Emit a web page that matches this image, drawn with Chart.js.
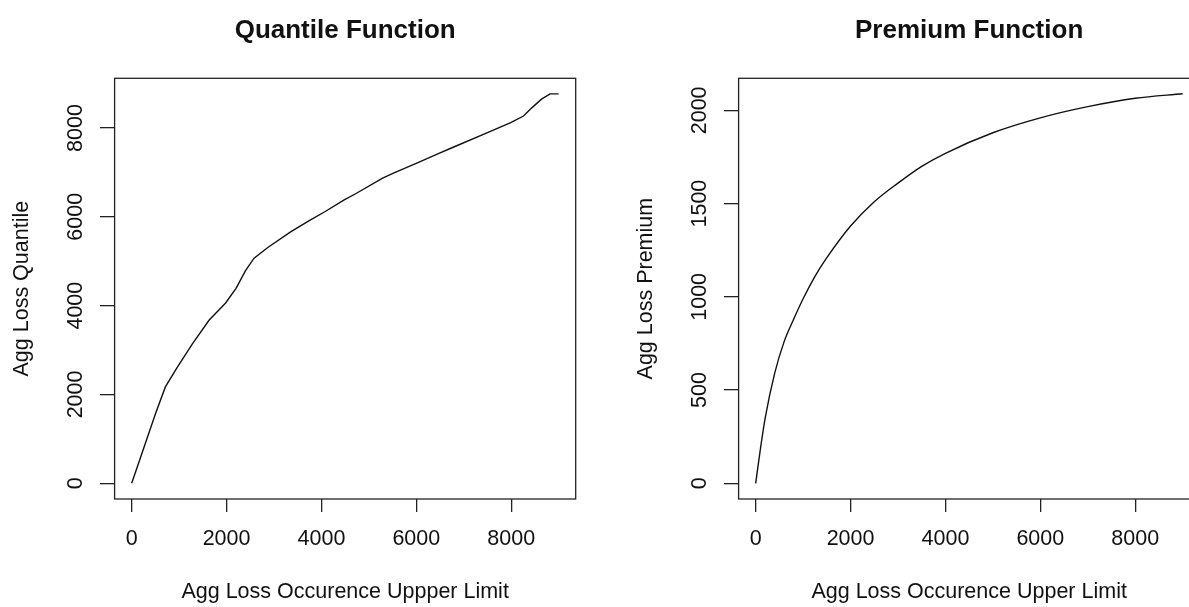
<!DOCTYPE html>
<html>
<head>
<meta charset="utf-8">
<script src="https://cdn.jsdelivr.net/npm/chart.js@4.4.1/dist/chart.umd.min.js"></script>
<style>
  html, body { margin: 0; padding: 0; background: #fff; overflow: hidden; width: 1189px; height: 607px; }
  #wrap { position: relative; width: 1189px; height: 607px; overflow: hidden; }
  canvas { position: absolute; top: 0; }
  #c1 { left: 0px; }
  #c2 { left: 624px; }
</style>
</head>
<body>
<div id="wrap">
  <canvas id="c1" width="600" height="607"></canvas>
  <canvas id="c2" width="600" height="607"></canvas>
</div>
<script>
// ---- data ----
const quantileX = [0, 190, 500, 710, 960, 1280, 1630, 1980, 2200, 2400, 2580, 2870, 3350, 3770, 4080, 4480, 4720, 5290, 5530, 6010, 6500, 6740, 7550, 7990, 8260, 8440, 8640, 8820, 9000];
const quantileY = [0, 590, 1560, 2170, 2610, 3140, 3670, 4060, 4390, 4790, 5070, 5310, 5660, 5930, 6120, 6380, 6520, 6870, 6990, 7210, 7440, 7550, 7920, 8120, 8270, 8460, 8650, 8770, 8770];

const premiumX = [0, 100, 200, 400, 600, 800, 1000, 1250, 1500, 2000, 2500, 3000, 3500, 4000, 5000, 6000, 7000, 8000, 9000];
const premiumY = [0, 185, 350, 590, 760, 880, 990, 1110, 1210, 1380, 1510, 1610, 1700, 1770, 1880, 1960, 2020, 2065, 2089];

const xTicks = [0, 2000, 4000, 6000, 8000];
const quantileTicks = [0, 2000, 4000, 6000, 8000];
const premiumTicks = [0, 500, 1000, 1500, 2000];

const titles = ['Quantile Function', 'Premium Function'];
const xLabels = ['Agg Loss Occurence Uppper Limit', 'Agg Loss Occurence Upper Limit'];
const yLabels = ['Agg Loss Quantile', 'Agg Loss Premium'];

// ---- styling ----
const FONT = "'Liberation Sans', Arial, Helvetica, sans-serif";
const INK = '#111';

const boxPlugin = {
  id: 'rbox',
  afterDraw(chart) {
    const a = chart.chartArea;
    const ctx = chart.ctx;
    ctx.save();
    ctx.strokeStyle = '#222';
    ctx.lineWidth = 1.3;
    ctx.strokeRect(a.left, a.top, a.right - a.left, a.bottom - a.top);
    ctx.restore();
  }
};

function makeChart(id, xs, ys, yTicks, yMin, yMax, title, xLabel, yLabel, smooth) {
  const pts = xs.map((x, i) => ({ x: x, y: ys[i] }));
  return new Chart(document.getElementById(id), {
    type: 'scatter',
    data: {
      datasets: [{
        data: pts,
        showLine: true,
        borderColor: '#111',
        borderWidth: 1.4,
        pointRadius: 0,
        fill: false,
        tension: 0,
        cubicInterpolationMode: smooth ? 'monotone' : 'default'
      }]
    },
    options: {
      responsive: false,
      animation: false,
      events: [],
      layout: { padding: { left: 0, right: 24.3, top: 0, bottom: 0 } },
      plugins: {
        legend: { display: false },
        tooltip: { enabled: false },
        title: {
          display: true,
          text: title,
          fullSize: false,
          color: INK,
          font: { family: FONT, size: 26, weight: 'bold', lineHeight: 1.2 },
          padding: { top: 15.4, bottom: 31.7 }
        }
      },
      scales: {
        x: {
          type: 'linear',
          position: 'bottom',
          min: -360,
          max: 9360,
          afterBuildTicks: (s) => { s.ticks = xTicks.map(v => ({ value: v })); },
          afterFit: (s) => { s.height = 108; },
          border: { display: false },
          grid: { display: true, drawOnChartArea: false, drawTicks: true, tickLength: 13, color: '#222', lineWidth: 1.3 },
          ticks: {
            autoSkip: false, maxRotation: 0, minRotation: 0, padding: 14.6, color: INK,
            font: { family: FONT, size: 21.5, lineHeight: 1.2 },
            callback: (v) => String(v)
          },
          title: {
            display: true, text: xLabel, color: INK,
            font: { family: FONT, size: 21.5, lineHeight: 1.2 },
            padding: { top: 0, bottom: 1.6 }
          }
        },
        y: {
          type: 'linear',
          position: 'left',
          min: yMin,
          max: yMax,
          afterBuildTicks: (s) => { s.ticks = yTicks.map(v => ({ value: v })); },
          afterFit: (s) => { s.width = 114.6; },
          border: { display: false },
          grid: { display: true, drawOnChartArea: false, drawTicks: true, tickLength: 14.6, color: '#222', lineWidth: 1.3 },
          ticks: {
            autoSkip: false, minRotation: 90, maxRotation: 90, crossAlign: 'center', padding: 0, color: INK,
            font: { family: FONT, size: 21.5, lineHeight: 1.2 },
            callback: (v) => String(v)
          },
          title: {
            display: true, text: yLabel, color: INK,
            font: { family: FONT, size: 21.5, lineHeight: 1.2 },
            padding: { top: 9.1, bottom: 0 }
          }
        }
      }
    },
    plugins: [boxPlugin]
  });
}

makeChart('c1', quantileX, quantileY, quantileTicks, -355, 9120, titles[0], xLabels[0], yLabels[0], false);
makeChart('c2', premiumX, premiumY, premiumTicks, -84, 2172, titles[1], xLabels[1], yLabels[1], true);
</script>
</body>
</html>
